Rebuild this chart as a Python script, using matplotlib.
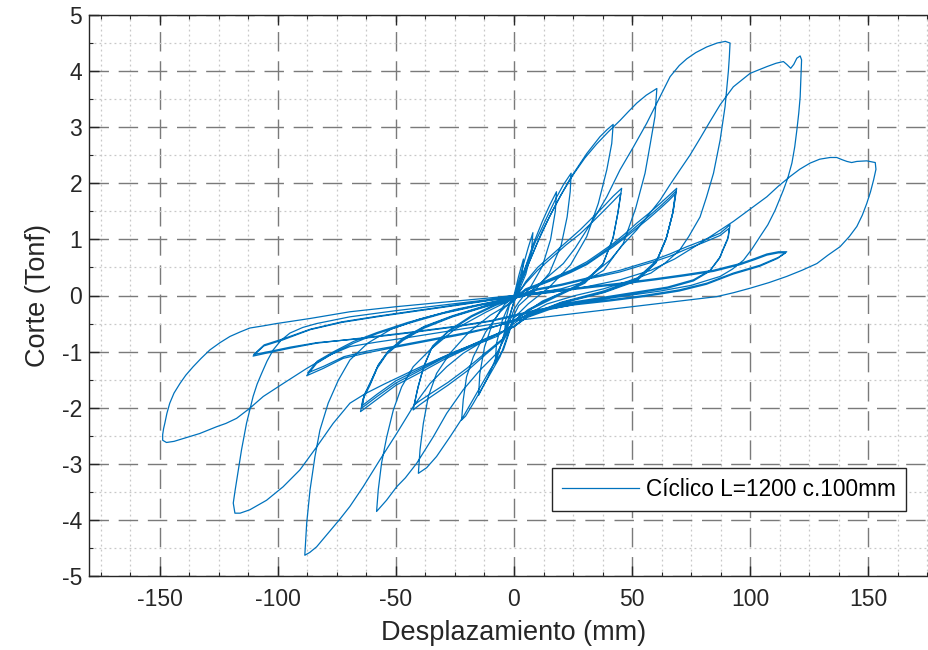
import numpy as np
import matplotlib
matplotlib.use("Agg")
import matplotlib.pyplot as plt
from matplotlib.ticker import MultipleLocator

# ensayo ciclico: cada ciclo es una lista de (desplazamiento mm, corte tonf)
ciclo_01 = [(0, 0), (2, 0.35), (4, 0.65), (3.5, 0.4), (2, 0.12), (0, -0.1), (-2, -0.4),
            (-4, -0.7), (-3.6, -0.45), (-2, -0.18), (0, -0.05)]
ciclo_02 = [(0, -0.05), (3, 0.4), (6, 0.85), (8, 1.12), (7.4, 0.78), (5, 0.38), (2, 0.08),
            (0, -0.12), (-3, -0.5), (-6, -0.95), (-8, -1.22), (-7.4, -0.85), (-5, -0.45),
            (-2, -0.15), (0, -0.03)]
ciclo_03 = [(0, -0.03), (4, 0.4), (8, 0.9), (12, 1.32), (15, 1.6), (18, 1.85), (17.5, 1.5),
            (15.5, 1.0), (12, 0.52), (7, 0.15), (2, -0.12), (0, -0.25), (-3, -0.6),
            (-7, -1.05), (-11, -1.45), (-15, -1.78), (-14.5, -1.4), (-12.5, -0.92),
            (-9, -0.48), (-4, -0.16), (0, -0.02)]
ciclo_04 = [(0, -0.02), (4, 0.4), (9, 0.95), (14, 1.4), (18, 1.75), (21, 1.98), (24.2, 2.18),
            (23.8, 1.85), (22.5, 1.4), (20, 0.9), (15, 0.4), (8, 0.05), (2, -0.18), (0, -0.35),
            (-3, -0.75), (-5.9, -1.09), (-11.6, -1.51), (-17.2, -1.92), (-20.5, -2.15),
            (-22.2, -2.22), (-21.5, -1.86), (-20.1, -1.45), (-17.2, -1.09), (-12, -0.65),
            (-6, -0.3), (0, -0.05)]
ciclo_05 = [(0, -0.05), (6, 0.55), (12, 1.15), (18, 1.65), (24, 2.1), (30.8, 2.53),
            (36.4, 2.83), (39.5, 2.96), (42, 3.05), (41.4, 2.71), (39.3, 2.24), (35.7, 1.64),
            (30.8, 1.05), (24, 0.55), (15, 0.15), (6, -0.15), (0, -0.4), (-4.5, -0.97),
            (-10.2, -1.33), (-15.8, -1.74), (-21.5, -2.16), (-27.1, -2.52), (-32.8, -2.87),
            (-37, -3.07), (-40.5, -3.17), (-39.8, -2.75), (-38.4, -2.28), (-36.3, -1.8),
            (-32.8, -1.39), (-27.1, -1.03), (-19, -0.65), (-10, -0.35), (0, -0.1)]
ciclo_06 = [(0, -0.1), (5, 0.25), (10, 0.5), (16.7, 0.75), (22, 0.95), (28, 1.17), (33, 1.38),
            (37.8, 1.58), (42, 1.77), (45.6, 1.91), (44.2, 1.52), (42.1, 1.05), (37.8, 0.57),
            (30, 0.25), (18, 0.0), (6, -0.25), (0, -0.45), (-5, -0.8), (-12, -1.05),
            (-20, -1.35), (-28, -1.6), (-35, -1.8), (-40, -1.95), (-42.7, -2.04), (-41, -1.7),
            (-38.5, -1.3), (-35, -0.95), (-28, -0.65), (-18, -0.38), (-8, -0.18), (0, -0.05)]
ciclo_07 = [(0, -0.05), (5, 0.22), (10, 0.45), (16.7, 0.7), (22, 0.9), (28, 1.1), (33, 1.3),
            (37.8, 1.5), (42, 1.68), (45.2, 1.82), (43.9, 1.45), (41.8, 1.0), (37.5, 0.55),
            (30, 0.22), (18, -0.02), (6, -0.27), (0, -0.45), (-5, -0.78), (-12, -1.02),
            (-20, -1.3), (-28, -1.55), (-35, -1.74), (-40, -1.88), (-42.3, -1.95),
            (-40.6, -1.62), (-38, -1.24), (-34.5, -0.9), (-27.5, -0.62), (-18, -0.36),
            (-8, -0.16), (0, -0.03)]
ciclo_08 = [(0, -0.03), (5, 0.45), (10, 0.95), (15, 1.4), (20, 1.8), (25, 2.15), (30, 2.45),
            (35, 2.7), (40, 2.92), (44.9, 3.12), (48.5, 3.28), (52, 3.43), (56, 3.57),
            (60.5, 3.69), (59.7, 3.19), (57.7, 2.7), (55.5, 2.18), (51.5, 1.55), (46.3, 0.93),
            (38, 0.45), (26, 0.15), (12, -0.1), (0, -0.45), (-7.3, -1.03), (-14.4, -1.33),
            (-21.5, -1.68), (-28.5, -2.1), (-34.2, -2.52), (-41.2, -2.99), (-46, -3.25),
            (-49.7, -3.41), (-54, -3.65), (-58.2, -3.85), (-57.5, -3.47), (-56.1, -2.99),
            (-53.9, -2.52), (-51.1, -2.04), (-47.6, -1.63), (-42.7, -1.27), (-35.6, -0.97),
            (-25, -0.6), (-12, -0.3), (0, -0.05)]
ciclo_09 = [(0, -0.05), (5, 0.12), (10, 0.2), (16.7, 0.32), (24, 0.45), (30.8, 0.6), (36, 0.75),
            (42.1, 0.93), (47, 1.1), (52, 1.29), (57, 1.46), (61.9, 1.64), (65.5, 1.78),
            (68.9, 1.91), (67.5, 1.52), (64.7, 1.05), (60.5, 0.63), (52, 0.3), (38, 0.08),
            (20, -0.12), (6, -0.35), (0, -0.55), (-10, -0.75), (-20, -0.95), (-30, -1.15),
            (-40, -1.38), (-50, -1.6), (-58, -1.85), (-65, -2.07), (-64, -1.85), (-61, -1.6),
            (-58, -1.3), (-54, -1.05), (-47, -0.8), (-38, -0.58), (-26, -0.38), (-12, -0.2),
            (0, -0.05)]
ciclo_10 = [(0, -0.05), (5, 0.1), (10, 0.18), (16.7, 0.3), (24, 0.43), (30.8, 0.57), (36, 0.72),
            (42.1, 0.9), (47, 1.06), (52, 1.24), (57, 1.41), (61.9, 1.59), (65.5, 1.73),
            (68.6, 1.86), (67.3, 1.48), (64.5, 1.02), (60.3, 0.6), (52, 0.28), (38, 0.06),
            (20, -0.13), (6, -0.36), (0, -0.55), (-10, -0.74), (-20, -0.93), (-30, -1.12),
            (-40, -1.34), (-50, -1.56), (-58, -1.8), (-64.6, -2.01), (-63.6, -1.8),
            (-60.7, -1.55), (-57.7, -1.26), (-53.7, -1.02), (-47, -0.78), (-38, -0.56),
            (-26, -0.37), (-12, -0.19), (0, -0.05)]
ciclo_11 = [(0, -0.05), (5, 0.09), (10, 0.17), (16.7, 0.28), (24, 0.41), (30.8, 0.55), (36, 0.7),
            (42.1, 0.87), (47, 1.03), (52, 1.2), (57, 1.37), (61.9, 1.55), (65.5, 1.69),
            (68.3, 1.81), (67.1, 1.44), (64.3, 0.99), (60.1, 0.58), (52, 0.26), (38, 0.05),
            (20, -0.14), (6, -0.37), (0, -0.56), (-10, -0.73), (-20, -0.92), (-30, -1.1),
            (-40, -1.31), (-50, -1.52), (-58, -1.76), (-64.2, -1.96), (-63.3, -1.76),
            (-60.4, -1.51), (-57.4, -1.23), (-53.4, -1.0), (-47, -0.76), (-38, -0.55),
            (-26, -0.36), (-12, -0.18), (0, -0.05)]
ciclo_12 = [(0, -0.05), (5, 0.0), (12, 0.25), (20.9, 0.57), (26, 0.85), (30.8, 1.17), (35, 1.45),
            (39.3, 1.76), (44.9, 2.24), (50.6, 2.65), (56.2, 3.07), (61.9, 3.55), (66.1, 3.9),
            (70, 4.1), (73.2, 4.22), (77, 4.33), (81.6, 4.43), (86, 4.5), (89.5, 4.53),
            (91.5, 4.5), (91.2, 4.25), (90.8, 4.0), (89.4, 3.37), (87.3, 2.77), (84.5, 2.18),
            (81.5, 1.75), (78.8, 1.4), (74, 1.05), (70, 0.8), (64, 0.58), (58, 0.4), (48, 0.25),
            (38, 0.12), (26, 0.0), (14, -0.15), (5, -0.35), (0, -0.5), (-7.3, -0.73),
            (-14.4, -0.85), (-21.5, -1.03), (-28.5, -1.27), (-35.6, -1.57), (-42.7, -1.98),
            (-49.7, -2.46), (-56.8, -2.93), (-63.9, -3.41), (-69.5, -3.76), (-74, -4.0),
            (-78, -4.2), (-83.6, -4.48), (-86.5, -4.58), (-88.6, -4.63), (-88.2, -4.35),
            (-87.8, -4.06), (-86.4, -3.47), (-84.3, -2.87), (-82.2, -2.4), (-78.7, -1.92),
            (-74.4, -1.51), (-69.5, -1.15), (-62, -0.85), (-52, -0.6), (-40, -0.42),
            (-25, -0.25), (-10, -0.12), (0, -0.02)]
ciclo_13 = [(0, -0.02), (10, 0.12), (20, 0.2), (30.8, 0.31), (44.9, 0.45), (52, 0.54), (59, 0.63),
            (66, 0.74), (73.2, 0.87), (80, 0.98), (87.3, 1.11), (91.5, 1.26), (90.8, 1.05),
            (88.5, 0.82), (87.3, 0.69), (83.1, 0.45), (76, 0.28), (65, 0.15), (50, 0.05),
            (35, -0.05), (20, -0.15), (8, -0.3), (0, -0.45), (-10, -0.58), (-20, -0.68),
            (-35, -0.8), (-50, -0.92), (-62, -1.02), (-72.3, -1.12), (-80.8, -1.3),
            (-87.8, -1.43), (-83.6, -1.21), (-76.6, -1.03), (-68, -0.85), (-58, -0.68),
            (-45, -0.5), (-30, -0.32), (-15, -0.18), (0, -0.05)]
ciclo_14 = [(0, -0.05), (10, 0.1), (20, 0.18), (30.8, 0.29), (44.9, 0.42), (52, 0.51), (59, 0.6),
            (66, 0.7), (73.2, 0.83), (80, 0.94), (87.3, 1.07), (91.2, 1.2), (90.5, 1.0),
            (88.3, 0.79), (87, 0.66), (82.8, 0.43), (76, 0.26), (65, 0.13), (50, 0.03),
            (35, -0.07), (20, -0.17), (8, -0.31), (0, -0.46), (-10, -0.57), (-20, -0.66),
            (-35, -0.78), (-50, -0.9), (-62, -0.99), (-72, -1.09), (-80.5, -1.26),
            (-87.4, -1.38), (-83.3, -1.17), (-76.3, -1.0), (-68, -0.82), (-58, -0.66),
            (-45, -0.48), (-30, -0.31), (-15, -0.17), (0, -0.05)]
ciclo_15 = [(0, -0.05), (10, 0.05), (20, 0.12), (28, 0.22), (34, 0.4), (40.7, 0.63), (46, 0.9),
            (52, 1.17), (57, 1.44), (61.9, 1.7), (66, 1.97), (70.3, 2.24), (74.5, 2.5),
            (78.8, 2.8), (83, 3.1), (87.3, 3.4), (92.9, 3.72), (100, 3.96), (107.1, 4.08),
            (111, 4.14), (114.1, 4.17), (115.5, 4.12), (117.2, 4.05), (118.5, 4.12),
            (119.8, 4.23), (121.2, 4.27), (121.8, 4.2), (121.5, 3.85), (121.2, 3.54),
            (120.6, 3.25), (119.8, 2.95), (118.9, 2.65), (117.7, 2.36), (116, 2.1),
            (114.1, 1.88), (110.6, 1.52), (107.5, 1.26), (104.2, 1.05), (100.8, 0.83),
            (97.2, 0.63), (92.5, 0.47), (87.3, 0.34), (75, 0.18), (62, 0.08), (45, -0.02),
            (30, -0.12), (15, -0.25), (5, -0.4), (0, -0.55), (-10, -0.75), (-25, -1.0),
            (-40, -1.28), (-55, -1.58), (-63, -1.75), (-69.5, -1.92), (-76.6, -2.28),
            (-83.6, -2.7), (-90.7, -3.11), (-97.8, -3.41), (-104.8, -3.65), (-111.9, -3.82),
            (-116, -3.88), (-118.2, -3.88), (-118.9, -3.7), (-118.1, -3.47), (-117.2, -3.23),
            (-115.4, -2.75), (-113.3, -2.28), (-110.5, -1.8), (-108.8, -1.58),
            (-106.9, -1.39), (-104.6, -1.17), (-102, -0.97), (-98.7, -0.8), (-94.9, -0.67),
            (-89.5, -0.57), (-83.6, -0.5), (-69.5, -0.38), (-50, -0.27), (-30, -0.17),
            (-12, -0.08), (0, 0.0)]
ciclo_16 = [(0, 0.0), (15, 0.08), (30, 0.15), (45, 0.22), (60, 0.3), (72, 0.37), (84.5, 0.45),
            (95.8, 0.57), (102, 0.66), (107.1, 0.74), (112, 0.78), (115.5, 0.78), (112, 0.68),
            (104.2, 0.54), (92.9, 0.4), (81.7, 0.22), (70, 0.1), (55, 0.0), (40, -0.08),
            (25, -0.15), (10, -0.25), (0, -0.35), (-10, -0.45), (-25, -0.55), (-45, -0.66),
            (-65, -0.76), (-83.6, -0.85), (-94.9, -0.94), (-104, -1.02), (-110.5, -1.08),
            (-106, -0.9), (-97.8, -0.79), (-86.4, -0.61), (-73, -0.48), (-58, -0.38),
            (-40, -0.27), (-20, -0.15), (0, -0.02)]
ciclo_17 = [(0, -0.02), (15, 0.06), (30, 0.13), (45, 0.2), (60, 0.28), (72, 0.35), (84.5, 0.43),
            (95.8, 0.55), (102, 0.64), (107.1, 0.72), (112, 0.76), (115, 0.76), (111.6, 0.66),
            (104, 0.52), (92.7, 0.38), (81.5, 0.2), (70, 0.08), (55, -0.02), (40, -0.1),
            (25, -0.17), (10, -0.27), (0, -0.37), (-10, -0.46), (-25, -0.56), (-45, -0.67),
            (-65, -0.77), (-83.4, -0.84), (-94.7, -0.92), (-103.8, -1.0), (-110.2, -1.05),
            (-105.8, -0.88), (-97.6, -0.77), (-86.2, -0.6), (-73, -0.47), (-58, -0.37),
            (-40, -0.26), (-20, -0.14), (0, -0.02)]
ciclo_18 = [(0, -0.02), (15, 0.05), (30, 0.15), (45, 0.28), (58, 0.45), (68, 0.65), (78.8, 0.93),
            (86, 1.13), (92.9, 1.32), (100, 1.54), (107.1, 1.76), (112, 1.95), (116.9, 2.12),
            (121, 2.25), (125.4, 2.36), (129.5, 2.43), (133.9, 2.46), (136.7, 2.46),
            (139, 2.42), (141, 2.39), (143, 2.37), (145.2, 2.39), (149.4, 2.4), (153, 2.37),
            (153.3, 2.25), (152.3, 2.06), (151, 1.85), (149.4, 1.64), (147.5, 1.43),
            (145.2, 1.23), (142, 1.05), (138.1, 0.87), (133, 0.72), (128.3, 0.57),
            (122, 0.45), (115.5, 0.34), (108, 0.23), (100, 0.13), (93, 0.05), (85.9, -0.02),
            (70, -0.1), (50, -0.2), (30, -0.3), (10, -0.4), (0, -0.45), (-15, -0.55),
            (-30, -0.65), (-45, -0.75), (-58, -0.83), (-69.5, -0.91), (-78, -1.06),
            (-87.8, -1.3), (-97.8, -1.57), (-106.2, -1.8), (-111.9, -2.01), (-117.5, -2.19),
            (-122, -2.28), (-126, -2.34), (-133.1, -2.46), (-140.1, -2.55), (-144, -2.6),
            (-147.2, -2.62), (-148.8, -2.58), (-148.8, -2.48), (-148.4, -2.37),
            (-147.9, -2.28), (-147, -2.1), (-145.8, -1.92), (-144, -1.74), (-141.5, -1.57),
            (-139, -1.42), (-135.9, -1.27), (-132.5, -1.12), (-128.8, -0.97),
            (-124.5, -0.84), (-120.3, -0.73), (-116, -0.65), (-111.9, -0.58), (-106, -0.54),
            (-100.6, -0.5), (-86.4, -0.41), (-69.5, -0.29), (-50, -0.2), (-30, -0.12),
            (-12, -0.05), (0, 0.0)]

ciclos = [ciclo_01, ciclo_02, ciclo_03, ciclo_04, ciclo_05, ciclo_06, ciclo_07, ciclo_08,
          ciclo_09, ciclo_10, ciclo_11, ciclo_12, ciclo_13, ciclo_14, ciclo_15, ciclo_16,
          ciclo_17, ciclo_18]
datos = np.array([p for c in ciclos for p in c])
desplazamiento = datos[:, 0]
corte = datos[:, 1]

plt.rcParams['font.family'] = ['Liberation Sans', 'DejaVu Sans']
plt.rcParams['axes.unicode_minus'] = False

fig = plt.figure(figsize=(9.29, 6.5), dpi=100)
ax = fig.add_axes([89 / 929, 74 / 650, 850 / 929, 561 / 650])

ax.plot(desplazamiento, corte, color='#0072BD', lw=0.9, label='Cíclico L=1200 c.100mm')

ax.set_xlim(-180, 180)
ax.set_ylim(-5, 5)
ax.xaxis.set_major_locator(MultipleLocator(50))
ax.xaxis.set_minor_locator(MultipleLocator(12.5))
ax.yaxis.set_major_locator(MultipleLocator(1))
ax.yaxis.set_minor_locator(MultipleLocator(0.5))

ax.grid(which='major', linestyle=(0, (14, 7)), color='#7a7a7a', lw=1.0)
ax.grid(which='minor', linestyle=(0, (1.5, 2.5)), color='#c8c8c8', lw=0.9)
ax.set_axisbelow(True)

gris = '#262626'
for s in ax.spines.values():
    s.set_color(gris)
    s.set_linewidth(1.0)
ax.tick_params(which='both', direction='in', top=True, right=True, color=gris,
               labelcolor=gris, labelsize=16.5)
ax.tick_params(which='major', length=7, width=1.0)
ax.tick_params(which='minor', length=3, width=0.8)
ax.tick_params(axis='x', pad=9)
ax.tick_params(axis='y', pad=5)

ax.set_xlabel('Desplazamiento (mm)', fontsize=19.5, color=gris, labelpad=6)
ax.set_ylabel('Corte (Tonf)', fontsize=19.5, color=gris, labelpad=8)

leg = ax.legend(loc='lower right', bbox_to_anchor=(0.961, 0.116), borderaxespad=0,
                fontsize=16.3, handlelength=3.4, handletextpad=0.3, borderpad=0.45,
                fancybox=False, framealpha=1, edgecolor=gris)
leg.get_frame().set_linewidth(1.0)

fig.savefig('out.png', dpi=100)
